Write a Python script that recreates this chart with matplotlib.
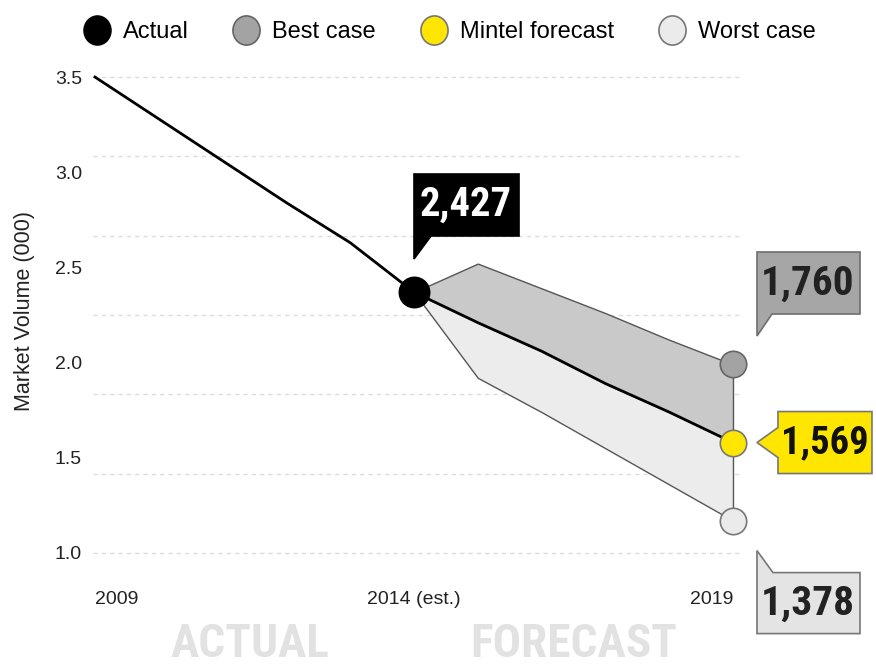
import matplotlib
matplotlib.use("Agg")
import numpy as np
import matplotlib.pyplot as plt
import matplotlib.transforms as mtransforms
from matplotlib.patches import Polygon
from matplotlib.lines import Line2D
from matplotlib.path import Path
from matplotlib import font_manager

names = {f.name for f in font_manager.fontManager.ttflist}
cond = 'Liberation Sans'
for cand in ['Liberation Sans Narrow', 'Arial Narrow', 'Roboto Condensed', 'Open Sans Condensed']:
    if cand in names:
        cond = cand
        break
plt.rcParams['font.family'] = ['Liberation Sans', 'DejaVu Sans']

# data (thousands)
actual_years = [2009, 2010, 2011, 2012, 2013, 2014]
actual_vals = [3.50, 3.28, 3.06, 2.84, 2.63, 2.37]
fc_years = [2014, 2015, 2016, 2017, 2018, 2019]
mintel = [2.37, 2.21, 2.06, 1.89, 1.74, 1.58]
best = [2.37, 2.52, 2.39, 2.26, 2.12, 1.99]
worst = [2.37, 1.92, 1.74, 1.55, 1.36, 1.17]
y_ticks = [1.0, 1.5, 2.0, 2.5, 3.0, 3.5]
x_ticks = [2009, 2014, 2019]
x_labels = ['2009', '2014 (est.)', '2019']
grid_levels = np.linspace(1.0, 3.5, 7)
callout_text = {'actual': '2,427', 'best': '1,760', 'mintel': '1,569', 'worst': '1,378'}

fig = plt.figure(figsize=(8.76, 6.69), dpi=100)
ax = fig.add_axes([93/876, 1-560/669, (740-93)/876, (560-70)/669])
ax.set_xlim(2008.969, 2019.11)
ax.set_ylim(0.963, 3.537)
for s in ax.spines.values():
    s.set_visible(False)

for g in grid_levels:
    ax.axhline(g, color='#dcdcdc', lw=1, ls=(0, (3, 3)), zorder=0)

ax.set_yticks(y_ticks, [f'{v:.1f}' for v in y_ticks])
ax.set_xticks(x_ticks, x_labels)
ax.tick_params(length=0, labelsize=14, colors='#222222')
ax.tick_params(axis='y', pad=8)
ax.tick_params(axis='x', pad=22)
xl = ax.get_xticklabels()
xl[0].set_ha('left')
xl[2].set_ha('right')

# bands
ax.fill_between(fc_years, mintel, best, facecolor='#c9c9c9', edgecolor='#555555', lw=1, zorder=2)
ax.fill_between(fc_years, worst, mintel, facecolor='#ececec', edgecolor='#555555', lw=1, zorder=2)
ax.plot(actual_years, actual_vals, color='black', lw=2, zorder=3)
ax.plot(fc_years, mintel, color='black', lw=2, zorder=3)

ax.plot(actual_years[-1], actual_vals[-1], 'o', ms=22, color='black', zorder=5, clip_on=False)
ax.plot(fc_years[-1], best[-1], 'o', ms=19, mfc='#a3a3a3', mec='#666666', mew=1.2, zorder=5, clip_on=False)
ax.plot(fc_years[-1], mintel[-1], 'o', ms=19, mfc='#ffe600', mec='#777777', mew=1.2, zorder=5, clip_on=False)
ax.plot(fc_years[-1], worst[-1], 'o', ms=19, mfc='#ebebeb', mec='#777777', mew=1.2, zorder=5, clip_on=False)


def fit_width(t, target_px, max_fs):
    fig.canvas.draw()
    w = t.get_window_extent().width
    t.set_fontsize(min(max_fs, t.get_fontsize() * target_px / w))


def callout(x, y, verts, tpos, text, fc, ec, tc, width_px):
    # verts / tpos are pixel offsets from the data point (y up)
    tr = (mtransforms.Affine2D().scale(1/100) + fig.dpi_scale_trans
          + mtransforms.ScaledTranslation(x, y, ax.transData))
    ax.add_patch(Polygon(verts, closed=True, transform=tr, facecolor=fc,
                         edgecolor=ec, lw=1.2, clip_on=False, zorder=6))
    t = ax.annotate(text, (x, y), xytext=(tpos[0]*0.72, tpos[1]*0.72),
                    textcoords='offset points', ha='center', va='center',
                    fontsize=32, weight='bold', color=tc, zorder=7,
                    annotation_clip=False, family=[cond, 'DejaVu Sans'])
    fit_width(t, width_px, 34)


callout(actual_years[-1], actual_vals[-1],
        [(0, 33), (0, 118), (105, 118), (105, 56), (17, 56)], (52, 87),
        callout_text['actual'], 'black', 'black', 'white', 92)
callout(fc_years[-1], best[-1],
        [(24, 28), (24, 112), (127, 112), (127, 50), (39, 50)], (75, 81),
        callout_text['best'], '#a6a6a6', '#6e6e6e', '#222222', 94)
callout(fc_years[-1], mintel[-1],
        [(24, 0), (45, 15), (45, 31), (139, 31), (139, -31), (45, -31), (45, -15)], (92, 0),
        callout_text['mintel'], '#ffe600', '#777777', '#111111', 88)
callout(fc_years[-1], worst[-1],
        [(24, -30), (40, -52), (127, -52), (127, -113), (24, -113), (24, -52)], (75, -83),
        callout_text['worst'], '#e4e4e4', '#777777', '#222222', 94)

# legend
oval = Path.unit_circle().transformed(mtransforms.Affine2D().scale(0.93, 1))
handles = [
    Line2D([], [], ls='none', marker=oval, ms=21, mfc='black', mec='black'),
    Line2D([], [], ls='none', marker=oval, ms=21, mfc='#a3a3a3', mec='#666666', mew=1.2),
    Line2D([], [], ls='none', marker=oval, ms=21, mfc='#ffe600', mec='#777777', mew=1.2),
    Line2D([], [], ls='none', marker=oval, ms=21, mfc='#ebebeb', mec='#777777', mew=1.2),
]
fig.legend(handles, ['Actual', 'Best case', 'Mintel forecast', 'Worst case'],
           loc='center', bbox_to_anchor=(0.514, 1-32/669), ncol=4, frameon=False,
           handletextpad=0.6, columnspacing=1.95, fontsize=17, handlelength=1)

fig.text(25/876, 1-311/669, 'Market Volume (000)', rotation=90, va='center',
         ha='center', fontsize=15.5, color='#222222')
fig.text(250/876, 1-666/669, 'ACTUAL', ha='center', va='bottom', fontsize=34,
         weight='bold', color='#e2e2e2', family=[cond, 'DejaVu Sans'])
fig.text(574/876, 1-666/669, 'FORECAST', ha='center', va='bottom', fontsize=34,
         weight='bold', color='#e2e2e2', family=[cond, 'DejaVu Sans'])

fig.savefig('out.png', dpi=100)
